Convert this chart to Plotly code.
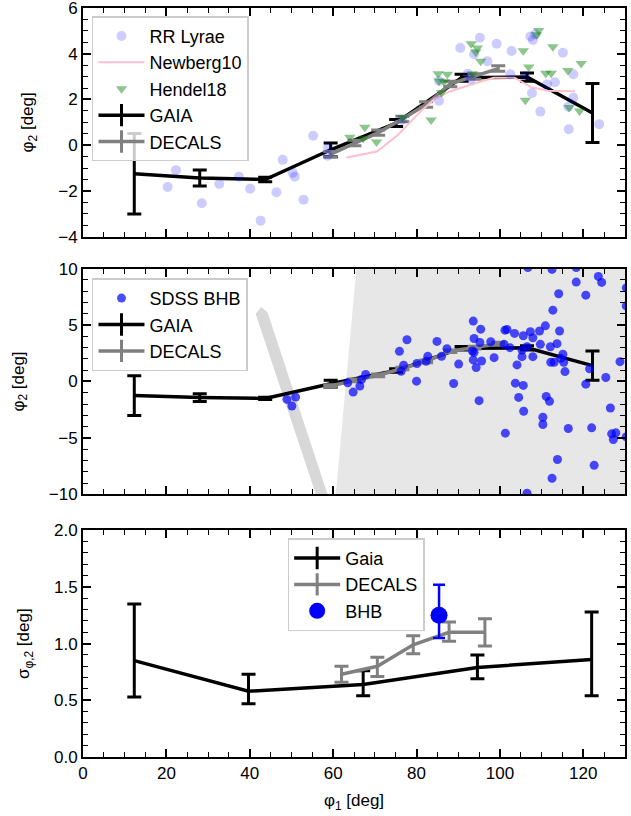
import plotly.graph_objects as go

# ---------------- Panel 1 data ----------------
rr_phi1 = [20.3, 22.3, 25.8, 28.5, 32.7, 37.4, 40.1, 42.6, 46.4, 47.9, 50.3, 50.8, 52.9,
           55.2, 58.8, 58.7, 76.6, 85.4, 85.4, 90.5, 92.3, 93.0, 93.8, 95.2, 97.0, 99.2,
           102.5, 102.8, 106.1, 107.3, 107.9, 108.5, 107.7, 109.7, 111.3, 113.2, 115.1,
           116.5, 116.4, 117.6, 117.6, 123.8]
rr_phi2 = [-1.83, -1.09, 0.0, -2.54, -1.70, -1.38, -1.90, -3.30, -2.06, -0.64, -1.20, -1.38, -2.38,
           0.41, -0.10, -0.46, 1.10, 1.94, 2.81, 4.25, 3.13, 2.89, 3.98, 4.70, 3.67, 4.44,
           3.10, 4.12, 3.03, 4.75, 4.60, 4.85, 2.28, 1.47, 2.65, 2.75, 4.04,
           0.70, 1.68, 3.10, 2.07, 0.92]

newberg_phi1 = [63.2, 70.5, 75.5, 81.1, 84.5, 88.0, 92.5, 98.5, 103.5, 107.3, 111.5, 118.0]
newberg_phi2 = [-0.54, -0.28, 0.45, 1.50, 2.05, 2.35, 2.62, 2.95, 2.95, 2.55, 2.38, 2.36]

hendel_phi1 = [64.0, 67.6, 67.2, 70.4, 76.7, 83.5, 85.2, 87.4, 85.4, 86.6, 86.0, 93.1, 94.6,
               94.2, 95.4, 93.4, 105.6, 106.9, 106.1, 109.3, 108.8, 111.0, 112.3, 112.7,
               116.3, 119.5, 116.6, 119.1]
hendel_phi2 = [0.35, 0.78, 0.30, 0.14, 1.21, 1.10, 3.12, 3.10, 2.81, 2.77, 2.30, 4.44, 4.25,
               4.08, 3.67, 3.13, 4.13, 3.42, 1.97, 5.02, 4.83, 3.15, 3.15, 4.30,
               3.27, 3.57, 1.65, 1.50]

gaia_phi1 = [12.3, 28.0, 43.7, 59.4, 75.1, 90.8, 106.5, 122.2]
gaia_phi2 = [-1.25, -1.43, -1.50, -0.20, 0.97, 2.95, 2.98, 1.41]
gaia_phi2_err = [1.76, 0.35, 0.10, 0.30, 0.15, 0.15, 0.18, 1.29]

decals_phi1 = [59.3, 65.1, 70.8, 76.6, 82.3, 88.1, 93.9, 99.6]
decals_phi2 = [-0.40, 0.10, 0.55, 1.15, 1.78, 2.68, 3.00, 3.35]
decals_phi2_err = [0.12, 0.12, 0.12, 0.12, 0.12, 0.12, 0.12, 0.12]

# ---------------- Panel 2 data ----------------
bhb_phi1 = [48.9, 51.0, 50.1, 63.5, 64.8, 66.4, 66.8, 67.8, 75.9, 77.7, 76.9, 76.3, 80.1, 80.0,
            82.3, 82.7, 84.9, 86.0, 87.3, 90.1, 88.9, 93.6, 95.4, 93.8, 95.2, 97.8, 93.4, 93.8,
            93.6, 95.6, 94.3, 98.6, 101.2, 101.7, 101.0, 102.4, 103.5, 105.6, 107.3, 107.9,
            109.5, 110.9, 105.3, 106.5, 105.3, 107.9, 109.7, 112.1, 113.7, 114.3, 112.2, 113.0,
            115.1, 114.6, 115.3, 115.6, 104.1, 103.7, 105.6, 104.5, 105.7, 95.0, 101.3, 111.1,
            111.9, 110.3, 110.3, 116.4, 122.0, 113.8, 112.5, 122.6, 112.7, 114.1, 112.5, 106.7,
            118.3, 118.3, 120.6, 123.6, 124.4, 130.3, 130.3, 121.5, 120.6, 125.4, 128.8, 126.5,
            126.8, 127.8, 127.2, 130.3, 106.5]
bhb_phi2 = [-1.59, -1.38, -2.17, -0.12, -0.94, -0.41, 0.18, 0.62, 2.67, 3.70, 1.44, 0.91, 1.59, 0.03,
            1.79, 2.23, 3.55, 2.23, 2.91, 1.54, -0.18, 5.35, 4.64, 3.81, 3.46, 3.52, 2.70, 2.58,
            1.91, 1.82, 1.23, 2.11, 4.55, 4.61, 3.29, 3.00, 4.26, 4.05, 4.41, 3.88,
            4.47, 4.93, 2.79, 3.08, 2.20, 2.20, 3.29, 3.08, 3.35, 4.47, 1.70, 1.70,
            2.41, 2.05, 1.70, 0.88, 1.47, -0.15, -0.35, -1.41, -2.64, -1.70, -4.58, -1.32,
            -1.76, -3.17, -3.81, -4.17, -4.11, -6.91, -8.58, -7.43, 6.32, 7.78, 9.93, 10.1,
            8.81, 10.1, 7.65, 9.31, 8.78, 8.30, 6.70, 1.12, -0.24, 0.35, 1.76, -2.35,
            -4.64, -4.55, -5.14, -4.90, -9.90]

# survey footprint outlines (background of panel 2)
footprint_phi1 = [65.7, 131.0, 131.0, 60.5]
footprint_phi2 = [10.5, 10.5, -10.5, -10.5]
stripe_phi1 = [41.4, 42.8, 44.3, 59.1, 56.3]
stripe_phi2 = [6.0, 6.6, 6.1, -10.5, -10.5]

# ---------------- Panel 3 data ----------------
sig_gaia_phi1 = [12.3, 39.7, 67.2, 94.6, 122.0]
sig_gaia = [0.85, 0.58, 0.64, 0.79, 0.86]
sig_gaia_hi = [1.35, 0.73, 0.76, 0.90, 1.28]
sig_gaia_lo = [0.53, 0.47, 0.54, 0.69, 0.54]

sig_decals_phi1 = [62.0, 70.6, 79.2, 87.8, 96.4]
sig_decals = [0.73, 0.80, 0.99, 1.10, 1.10]
sig_decals_hi = [0.80, 0.88, 1.07, 1.19, 1.22]
sig_decals_lo = [0.66, 0.71, 0.91, 1.02, 0.98]

sig_bhb_phi1 = [85.4]
sig_bhb = [1.25]
sig_bhb_hi = [1.52]
sig_bhb_lo = [1.05]

FONT = "Liberation Sans, Arial, sans-serif"
BLACK = "black"
GRAY = "rgb(128,128,128)"

fig = go.Figure()


def errs(vals, hi, lo):
    return [h - v for h, v in zip(hi, vals)], [v - l for v, l in zip(vals, lo)]


def err_line(x, y, err, color, xa, ya, lw=3.5, plus=None, minus=None):
    ey = dict(type="data", color=color, thickness=3, width=7)
    if plus is not None:
        ey.update(symmetric=False, array=plus, arrayminus=minus)
    else:
        ey.update(array=err)
    return go.Scatter(x=x, y=y, mode="lines", line=dict(color=color, width=lw),
                      error_y=ey, xaxis=xa, yaxis=ya, showlegend=False, hoverinfo="skip")


def legend_err(name, color, legend, rank, group):
    return go.Scatter(x=[None], y=[None], mode="lines+markers", name=name,
                      line=dict(color=color, width=3.5),
                      marker=dict(symbol="line-ns-open", size=16,
                                  line=dict(color=color, width=3)),
                      legend=legend, legendrank=rank, legendgroup=group)

# ---------- Panel 1 ----------
fig.add_trace(err_line(gaia_phi1, gaia_phi2, gaia_phi2_err, BLACK, "x", "y"))
fig.add_trace(err_line(decals_phi1, decals_phi2, decals_phi2_err, GRAY, "x", "y"))
fig.add_trace(go.Scatter(x=newberg_phi1, y=newberg_phi2, mode="lines", name="Newberg10",
                         line=dict(color="pink", width=2), xaxis="x", yaxis="y",
                         legend="legend", legendrank=2, legendgroup="a2"))
fig.add_trace(go.Scatter(x=rr_phi1, y=rr_phi2, mode="markers", name="RR Lyrae",
                         marker=dict(color="rgba(0,0,255,0.2)", size=10, line=dict(width=0)),
                         xaxis="x", yaxis="y", legend="legend", legendrank=1, legendgroup="a1"))
fig.add_trace(go.Scatter(x=hendel_phi1, y=hendel_phi2, mode="markers", name="Hendel18",
                         marker=dict(color="rgba(0,128,0,0.45)", size=10, symbol="triangle-down",
                                     line=dict(width=0)),
                         xaxis="x", yaxis="y", legend="legend", legendrank=3, legendgroup="a3"))
fig.add_trace(legend_err("GAIA", BLACK, "legend", 4, "a4"))
fig.add_trace(legend_err("DECALS", GRAY, "legend", 5, "a5"))

# ---------- Panel 2 ----------
fig.add_trace(go.Scatter(x=footprint_phi1, y=footprint_phi2, fill="toself", mode="none",
                         fillcolor="rgb(231,231,231)", xaxis="x2", yaxis="y2",
                         showlegend=False, hoverinfo="skip"))
fig.add_trace(go.Scatter(x=stripe_phi1, y=stripe_phi2, fill="toself", mode="none",
                         fillcolor="rgb(216,216,216)", xaxis="x2", yaxis="y2",
                         showlegend=False, hoverinfo="skip"))
fig.add_trace(err_line(gaia_phi1, gaia_phi2, gaia_phi2_err, BLACK, "x2", "y2"))
fig.add_trace(err_line(decals_phi1, decals_phi2, decals_phi2_err, GRAY, "x2", "y2"))
fig.add_trace(go.Scatter(x=bhb_phi1, y=bhb_phi2, mode="markers", name="SDSS BHB",
                         marker=dict(color="rgba(0,0,255,0.7)", size=9, line=dict(width=0)),
                         xaxis="x2", yaxis="y2", legend="legend2", legendrank=1, legendgroup="b1"))
fig.add_trace(legend_err("GAIA", BLACK, "legend2", 2, "b2"))
fig.add_trace(legend_err("DECALS", GRAY, "legend2", 3, "b3"))

# ---------- Panel 3 ----------
p, m = errs(sig_gaia, sig_gaia_hi, sig_gaia_lo)
fig.add_trace(err_line(sig_gaia_phi1, sig_gaia, None, BLACK, "x3", "y3", plus=p, minus=m))
p, m = errs(sig_decals, sig_decals_hi, sig_decals_lo)
fig.add_trace(err_line(sig_decals_phi1, sig_decals, None, GRAY, "x3", "y3", plus=p, minus=m))
p, m = errs(sig_bhb, sig_bhb_hi, sig_bhb_lo)
fig.add_trace(go.Scatter(x=sig_bhb_phi1, y=sig_bhb, mode="markers",
                         marker=dict(color="blue", size=17),
                         error_y=dict(type="data", symmetric=False, array=p, arrayminus=m,
                                      color="blue", thickness=2.5, width=6),
                         xaxis="x3", yaxis="y3", showlegend=False, hoverinfo="skip"))
fig.add_trace(legend_err("Gaia", BLACK, "legend3", 1, "c1"))
fig.add_trace(legend_err("DECALS", GRAY, "legend3", 2, "c2"))
fig.add_trace(go.Scatter(x=[None], y=[None], mode="markers", name="BHB",
                         marker=dict(color="blue", size=16),
                         legend="legend3", legendrank=3, legendgroup="c3"))


def xax(anchor, labels, title=None):
    d = dict(domain=[0, 1], anchor=anchor, range=[0, 130], showline=True, linewidth=2,
             linecolor=BLACK, mirror="allticks", ticks="inside", ticklen=8, tickwidth=1.5,
             tickcolor=BLACK, tick0=0, dtick=20, showgrid=False, zeroline=False,
             automargin=False, ticklabeloverflow="allow",
             showticklabels=labels, tickfont=dict(family=FONT, size=17, color=BLACK),
             minor=dict(ticks="inside", ticklen=5, tickwidth=1.2, tickcolor=BLACK, dtick=5,
                        showgrid=False))
    if title:
        d["title"] = dict(text=title, font=dict(family=FONT, size=17, color=BLACK), standoff=12)
    return d


def yax(anchor, dom, rng, dt, mdt, title, fmt=None):
    d = dict(domain=dom, anchor=anchor, range=rng, showline=True, linewidth=2,
             linecolor=BLACK, mirror="allticks", ticks="inside", ticklen=8, tickwidth=1.5,
             tickcolor=BLACK, tick0=0, dtick=dt, showgrid=False, zeroline=False,
             automargin=False, ticklabeloverflow="allow",
             tickfont=dict(family=FONT, size=17, color=BLACK),
             minor=dict(ticks="inside", ticklen=5, tickwidth=1.2, tickcolor=BLACK, dtick=mdt,
                        showgrid=False),
             title=dict(text=title, font=dict(family=FONT, size=17, color=BLACK), standoff=20))
    if fmt:
        d["tickformat"] = fmt
    return d


legend_common = dict(bgcolor="rgba(255,255,255,0.8)", bordercolor="rgb(204,204,204)",
                     borderwidth=1.5, font=dict(family=FONT, size=18, color=BLACK),
                     xanchor="left", yanchor="top", traceorder="grouped",
                     tracegroupgap=0, itemwidth=46)

fig.update_layout(
    width=631, height=816,
    margin=dict(l=83, r=6, t=8, b=59, autoexpand=False),
    paper_bgcolor="white", plot_bgcolor="white",
    font=dict(family=FONT, color=BLACK),
    xaxis=xax("y", False),
    yaxis=yax("x", [0.6947, 1.0], [-4, 6], 2, 0.5, "φ<sub>2</sub> [deg]"),
    xaxis2=xax("y2", False),
    yaxis2=yax("x2", [0.3507, 0.652], [-10, 10], 5, 1, "φ<sub>2</sub> [deg]"),
    xaxis3=xax("y3", True, "φ<sub>1</sub> [deg]"),
    yaxis3=yax("x3", [0.0, 0.3027], [0, 2], 0.5, 0.1, "σ<sub>φ,2</sub> [deg]", ".1f"),
    legend=dict(x=0.0166, y=0.989, **legend_common),
    legend2=dict(x=0.0166, y=0.639, **legend_common),
    legend3=dict(x=0.504, y=0.292, **{**legend_common, "xanchor": "center"}),
)

fig.write_html("out.html", config={"displayModeBar": False},
               post_script="document.body.style.margin='0';document.body.style.overflow='hidden';")
